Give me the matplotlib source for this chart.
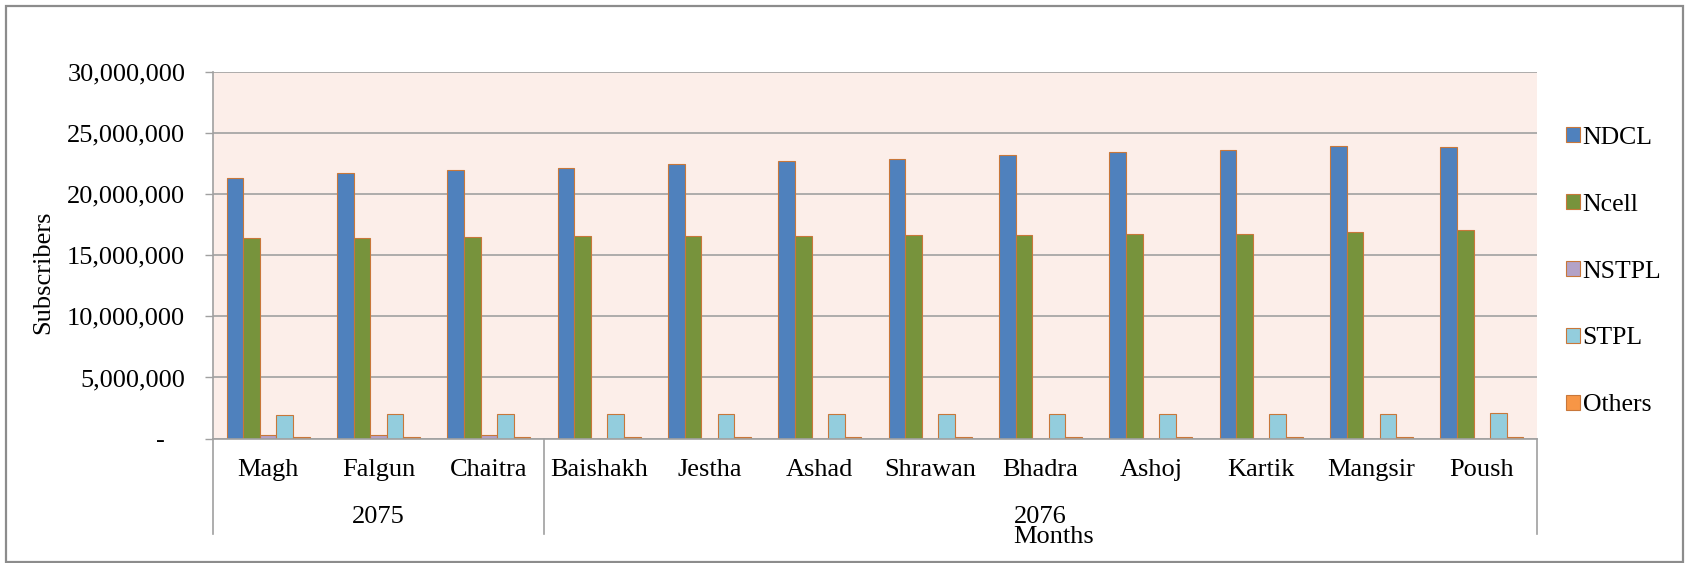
import numpy as np
import matplotlib
matplotlib.use("Agg")
import matplotlib.pyplot as plt
from matplotlib.patches import Rectangle, Patch
from matplotlib.ticker import FuncFormatter

plt.rcParams["font.family"] = ["Liberation Serif", "DejaVu Serif"]

# 数据(单位:用户数)
months = ["Magh", "Falgun", "Chaitra", "Baishakh", "Jestha", "Ashad",
          "Shrawan", "Bhadra", "Ashoj", "Kartik", "Mangsir", "Poush"]
years = ["2075", "2076"]
year_span = [(0, 2), (3, 11)]          # 每个年份覆盖的月份下标
operators = ["NDCL", "Ncell", "NSTPL", "STPL", "Others"]

ndcl = [21330000, 21770000, 21990000, 22180000, 22510000, 22700000,
        22920000, 23250000, 23460000, 23630000, 23950000, 23840000]
ncell = [16410000, 16410000, 16490000, 16600000, 16600000, 16600000,
         16710000, 16710000, 16780000, 16780000, 16900000, 17090000]
nstpl = [300000, 300000, 300000, 0, 0, 0, 0, 0, 0, 0, 0, 0]
stpl = [1890000, 1970000, 1970000, 1970000, 1970000, 1970000,
        1970000, 1970000, 1970000, 1970000, 1970000, 2090000]
others = [90000] * 12

COLORS = ["#4F81BD", "#77933C", "#B3A2C7", "#93CDDD", "#F79646"]
EDGE = "#C8773A"
GRID = "#A0A0A0"
FS = 19

W, H = 1687, 563
fig = plt.figure(figsize=(W / 100, H / 100), dpi=100)
L, R, T, B = 213, 1537, 72.3, 438.5
ax = fig.add_axes([L / W, 1 - B / H, (R - L) / W, (B - T) / H])
ax.set_facecolor("#FCEEE9")

x = np.arange(len(months))
bw = 0.151
series = [ndcl, ncell, nstpl, stpl, others]
for i, (vals, col, name) in enumerate(zip(series, COLORS, operators)):
    ax.bar(x + (i - 2) * bw, vals, bw, color=col, edgecolor=EDGE,
           linewidth=0.8, label=name, zorder=2)

ax.set_xlim(-0.5, len(months) - 0.5)
ax.set_ylim(0, 30000000)
ax.set_yticks(np.arange(0, 30000001, 5000000))
ax.yaxis.set_major_formatter(FuncFormatter(lambda v, p: "-   " if v == 0 else f"{v:,.0f}"))
ax.grid(True, axis="y", color=GRID, linewidth=1.2, zorder=1)
ax.set_axisbelow(True)
ax.tick_params(axis="y", length=6, width=1, color=GRID, pad=14, labelsize=FS)
ax.set_xticks(x)
ax.set_xticklabels(months, fontsize=FS)
ax.tick_params(axis="x", length=0, pad=15)
for s in ["top", "right"]:
    ax.spines[s].set_visible(False)
for s in ["left", "bottom"]:
    ax.spines[s].set_color(GRID)
    ax.spines[s].set_linewidth(1.2)

# 多级分类轴:年份与分隔线
tr = ax.get_xaxis_transform()
ybot = (B - 534) / (B - T)
for sx in [-0.5, 2.5, len(months) - 0.5]:
    ax.plot([sx, sx], [0, ybot], color=GRID, linewidth=1.2, transform=tr, clip_on=False)
for yr, (a, b) in zip(years, year_span):
    ax.text((a + b) / 2, (B - 517) / (B - T), yr, transform=tr,
            ha="center", va="center", fontsize=FS)

ax.set_xlabel("Months", fontsize=FS)
ax.xaxis.set_label_coords((1054 - L) / (R - L), (B - 537) / (B - T))
ax.xaxis.label.set_va("center")
ax.set_ylabel("Subscribers", fontsize=FS)
ax.yaxis.set_label_coords((43 - L) / (R - L), (B - 272) / (B - T))
ax.yaxis.label.set_va("center")

handles = [Patch(facecolor=c, edgecolor=EDGE, linewidth=0.8, label=n)
           for c, n in zip(COLORS, operators)]
fig.legend(handles=handles, loc="center left",
           bbox_to_anchor=(1566 / W, 1 - 271.5 / H), frameon=False,
           fontsize=FS - 0.5, handlelength=0.55, handleheight=0.55,
           handletextpad=0.1, labelspacing=1.75, borderpad=0, borderaxespad=0)

fig.add_artist(Rectangle((6 / W, 1.5 / H), (1683 - 6) / W, (561.5 - 6) / H,
                         transform=fig.transFigure, fill=False,
                         edgecolor="#8C8C8C", linewidth=1.6))

fig.savefig("out.png", dpi=100)
